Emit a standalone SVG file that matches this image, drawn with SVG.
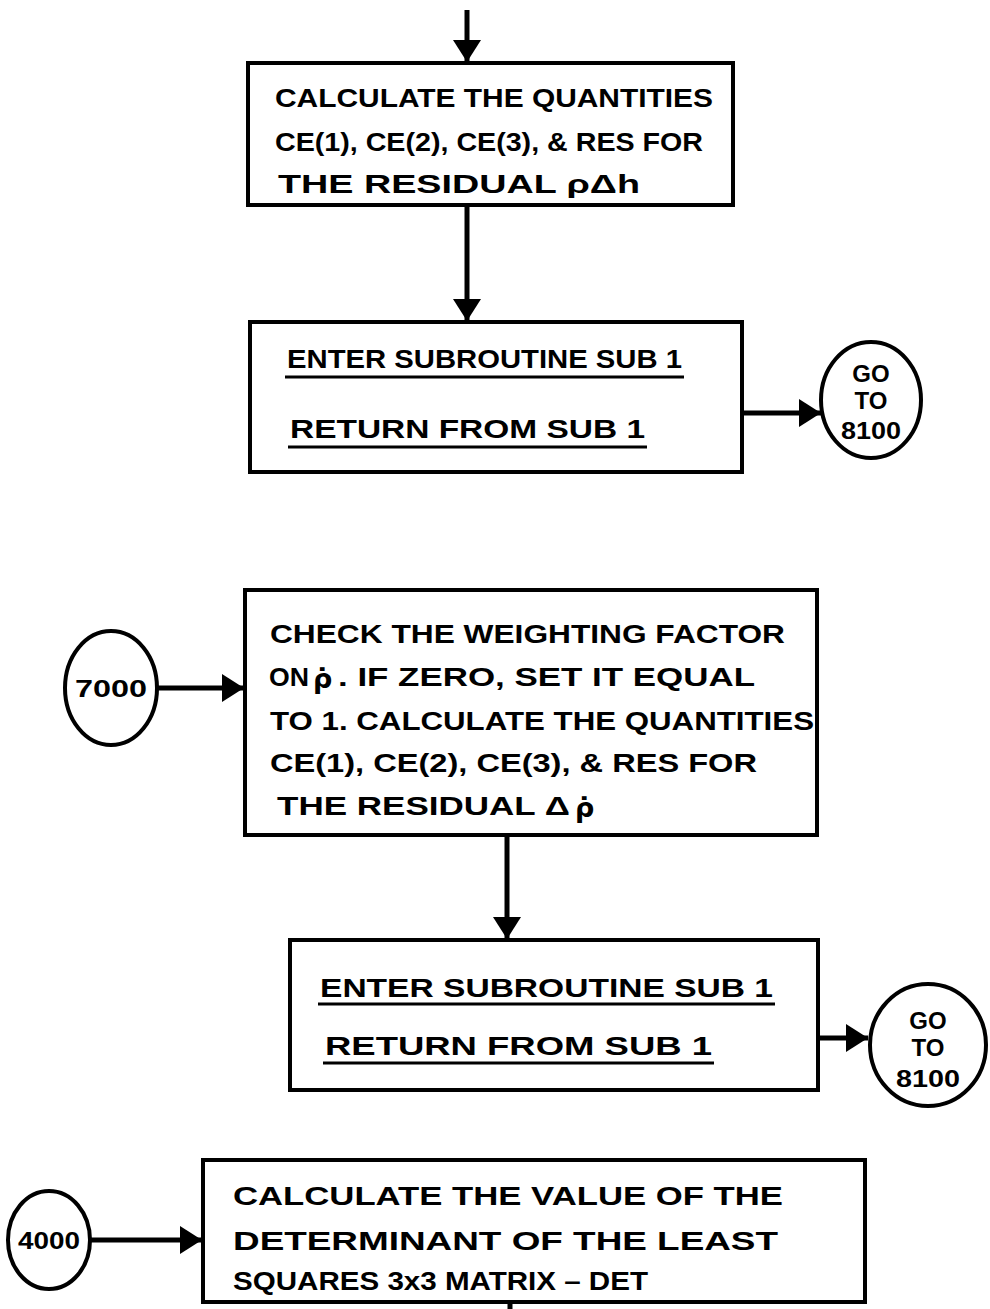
<svg xmlns="http://www.w3.org/2000/svg" width="990" height="1309" viewBox="0 0 990 1309">
<style>
.box{fill:#fff;stroke:#000;stroke-width:4}
.circ{fill:#fff;stroke:#000;stroke-width:4}
.t{font-family:"Liberation Sans",Arial,sans-serif;font-weight:bold;font-size:25px;fill:#000}
.r{font-family:"DejaVu Sans",sans-serif;font-weight:bold;font-size:27px;fill:#000}
.c{font-family:"Liberation Sans",Arial,sans-serif;font-weight:bold;font-size:24px;fill:#000;text-anchor:middle}
.ul{stroke:#000;stroke-width:3}
.edge{stroke:#000;stroke-width:5;fill:none}
</style>
<defs>
<marker id="ah" markerUnits="userSpaceOnUse" markerWidth="26" markerHeight="28" refX="22" refY="14" orient="auto">
<path d="M0,0 L22,14 L0,28 Z" fill="#000"/>
</marker>
</defs>
<rect width="990" height="1309" fill="#fff"/>
<g id="connectors">
<line class="edge" x1="467" y1="10" x2="467" y2="62" marker-end="url(#ah)"/>
<line class="edge" x1="467" y1="205" x2="467" y2="321" marker-end="url(#ah)"/>
<line class="edge" x1="743" y1="413" x2="821" y2="413" marker-end="url(#ah)"/>
<line class="edge" x1="157" y1="688" x2="244" y2="688" marker-end="url(#ah)"/>
<line class="edge" x1="507" y1="836" x2="507" y2="939" marker-end="url(#ah)"/>
<line class="edge" x1="819" y1="1038" x2="868" y2="1038" marker-end="url(#ah)"/>
<line class="edge" x1="90" y1="1240" x2="202" y2="1240" marker-end="url(#ah)"/>
<line class="edge" x1="510" y1="1302" x2="510" y2="1309"/>
</g>
<g id="box1">
<rect class="box" x="248" y="63" width="485" height="142"/>
<text class="t" x="275" y="107" textLength="438" lengthAdjust="spacingAndGlyphs">CALCULATE THE QUANTITIES</text>
<text class="t" x="275" y="151" textLength="428" lengthAdjust="spacingAndGlyphs">CE(1), CE(2), CE(3), &amp; RES FOR</text>
<text class="t" x="278" y="193" textLength="362" lengthAdjust="spacingAndGlyphs">THE RESIDUAL ρΔh</text>
</g>
<g id="box2">
<rect class="box" x="250" y="322" width="492" height="150"/>
<text class="t" x="287" y="368" textLength="395" lengthAdjust="spacingAndGlyphs">ENTER SUBROUTINE SUB 1</text>
<line class="ul" x1="285" y1="377" x2="684" y2="377"/>
<text class="t" x="290" y="438" textLength="355" lengthAdjust="spacingAndGlyphs">RETURN FROM SUB 1</text>
<line class="ul" x1="288" y1="447" x2="647" y2="447"/>
</g>
<g id="goto1">
<ellipse class="circ" cx="871" cy="400" rx="50" ry="58"/>
<text class="c" x="871" y="382">GO</text>
<text class="c" x="871" y="409">TO</text>
<text class="c" x="871" y="439" textLength="60" lengthAdjust="spacingAndGlyphs">8100</text>
</g>
<g id="c7000">
<ellipse class="circ" cx="111" cy="688" rx="46" ry="57"/>
<text class="c" x="111" y="697" font-size="26" textLength="72" lengthAdjust="spacingAndGlyphs">7000</text>
</g>
<g id="box3">
<rect class="box" x="245" y="590" width="572" height="245"/>
<text class="t" x="270" y="643" textLength="515" lengthAdjust="spacingAndGlyphs">CHECK THE WEIGHTING FACTOR</text>
<text class="t" x="269" y="686" font-size="26" textLength="40" lengthAdjust="spacingAndGlyphs">ON</text>
<text class="r" x="313" y="688">ρ̇</text>
<text class="t" x="338" y="686" textLength="417" lengthAdjust="spacingAndGlyphs">. IF ZERO, SET IT EQUAL</text>
<text class="t" x="270" y="730" textLength="544" lengthAdjust="spacingAndGlyphs">TO 1. CALCULATE THE QUANTITIES</text>
<text class="t" x="270" y="772" textLength="487" lengthAdjust="spacingAndGlyphs">CE(1), CE(2), CE(3), &amp; RES FOR</text>
<text class="t" x="277" y="815" textLength="293" lengthAdjust="spacingAndGlyphs">THE RESIDUAL Δ</text>
<text class="r" x="575" y="817">ρ̇</text>
</g>
<g id="box4">
<rect class="box" x="290" y="940" width="528" height="150"/>
<text class="t" x="320" y="997" textLength="453" lengthAdjust="spacingAndGlyphs">ENTER SUBROUTINE  SUB 1</text>
<line class="ul" x1="318" y1="1004" x2="775" y2="1004"/>
<text class="t" x="325" y="1055" textLength="387" lengthAdjust="spacingAndGlyphs">RETURN FROM SUB 1</text>
<line class="ul" x1="323" y1="1063" x2="714" y2="1063"/>
</g>
<g id="goto2">
<ellipse class="circ" cx="928" cy="1045" rx="58" ry="61"/>
<text class="c" x="928" y="1029">GO</text>
<text class="c" x="928" y="1056">TO</text>
<text class="c" x="928" y="1087" textLength="64" lengthAdjust="spacingAndGlyphs">8100</text>
</g>
<g id="c4000">
<ellipse class="circ" cx="49" cy="1240" rx="41" ry="49"/>
<text class="c" x="49" y="1249" textLength="62" lengthAdjust="spacingAndGlyphs">4000</text>
</g>
<g id="box5">
<rect class="box" x="203" y="1160" width="662" height="142"/>
<text class="t" x="233" y="1205" textLength="550" lengthAdjust="spacingAndGlyphs">CALCULATE THE VALUE OF THE</text>
<text class="t" x="233" y="1250" textLength="545" lengthAdjust="spacingAndGlyphs">DETERMINANT OF THE  LEAST</text>
<text class="t" x="233" y="1290" textLength="415" lengthAdjust="spacingAndGlyphs">SQUARES 3x3 MATRIX – DET</text>
</g>
</svg>
